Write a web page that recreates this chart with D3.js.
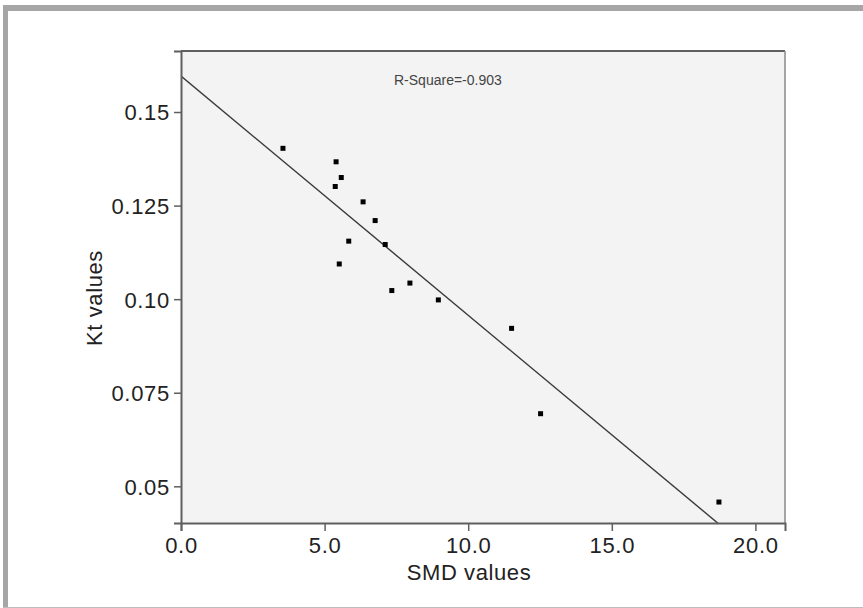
<!DOCTYPE html>
<html>
<head>
<meta charset="utf-8">
<script src="https://cdn.jsdelivr.net/npm/d3@7"></script>
<style>
  body { margin: 0; background: #fff; }
  svg { display: block; font-family: "Liberation Sans", Arial, sans-serif; }
</style>
</head>
<body>
<svg id="chart" width="863" height="608"></svg>
<script>
// SMD vs Kt
const smd = [3.55, 5.40, 5.58, 5.37, 6.34, 6.76, 5.84, 7.11, 5.51, 7.97, 7.34, 8.96, 11.51, 12.52, 18.73];
const kt = [0.1403, 0.1367, 0.1325, 0.1301, 0.1260, 0.1210, 0.1155, 0.1146, 0.1094, 0.1043, 0.1023, 0.0998, 0.0922, 0.0694, 0.0458];
const xTicks = [0, 5, 10, 15, 20];
const yTicks = [0.05, 0.075, 0.10, 0.125, 0.15];
const yTickLabels = ["0.05", "0.075", "0.10", "0.125", "0.15"];
const fitIntercept = 0.1596;
const fitSlope = -0.00639;
const rSquareLabel = "R-Square=-0.903";

const svg = d3.select("#chart");

// outer frame
svg.append("rect").attr("x", 3).attr("y", 5).attr("width", 860).attr("height", 6).attr("fill", "#a6a6a6");
svg.append("rect").attr("x", 3).attr("y", 5).attr("width", 5).attr("height", 603).attr("fill", "#a6a6a6");
svg.append("line").attr("x1", 3).attr("x2", 863).attr("y1", 607.5).attr("y2", 607.5)
  .attr("stroke", "#bdbdbd").attr("stroke-width", 1);

const margin = { left: 181, top: 51, right: 785, bottom: 523 };
const width = margin.right - margin.left;
const height = margin.bottom - margin.top;

const xScale = d3.scaleLinear().domain([0, 21.03]).range([0, width]);
const yScale = d3.scaleLinear().domain([0.0402, 0.1663]).range([height, 0]);

const g = svg.append("g").attr("transform", `translate(${margin.left}, ${margin.top})`);

g.append("rect")
  .attr("width", width)
  .attr("height", height)
  .attr("fill", "#f3f3f3");

g.append("defs").append("clipPath").attr("id", "plotclip")
  .append("rect").attr("width", width).attr("height", height);

// fit line
g.append("line")
  .attr("clip-path", "url(#plotclip)")
  .attr("x1", xScale(0))
  .attr("y1", yScale(fitIntercept))
  .attr("x2", xScale(21.03))
  .attr("y2", yScale(fitIntercept + fitSlope * 21.03))
  .attr("stroke", "#3a3a3a")
  .attr("stroke-width", 1.4);

// points
g.selectAll(".pt")
  .data(smd.map((d, i) => ({ x: d, y: kt[i] })))
  .enter()
  .append("rect")
  .attr("class", "pt")
  .attr("x", (d) => xScale(d.x) - 2.5)
  .attr("y", (d) => yScale(d.y) - 2.5)
  .attr("width", 5)
  .attr("height", 5)
  .attr("fill", "#000");

// plot border (top / right)
g.append("line").attr("x1", 0).attr("x2", width).attr("y1", 0).attr("y2", 0)
  .attr("stroke", "#5f5f5f").attr("stroke-width", 2);
g.append("line").attr("x1", width).attr("x2", width).attr("y1", 0).attr("y2", height)
  .attr("stroke", "#8a8a8a").attr("stroke-width", 1.5);

// axes
const xAxis = g.append("g")
  .attr("transform", `translate(0, ${height})`)
  .call(d3.axisBottom(xScale).tickValues(xTicks).tickFormat(d3.format(".1f")).tickSizeOuter(0).tickSize(8).tickPadding(6));

const yAxis = g.append("g")
  .call(d3.axisLeft(yScale).tickValues(yTicks).tickFormat((d, i) => yTickLabels[i]).tickSizeOuter(0).tickSize(7).tickPadding(4));

[xAxis, yAxis].forEach((ax) => {
  ax.select(".domain").attr("stroke", "#5f5f5f").attr("stroke-width", 2);
  ax.selectAll(".tick line").attr("stroke", "#5f5f5f").attr("stroke-width", 1.5);
  ax.selectAll(".tick text")
    .attr("fill", "#222")
    .style("font-size", "22px")
    .style("letter-spacing", "0.7px")
    .style("font-family", "'Liberation Sans', Arial, sans-serif");
});
yAxis.selectAll(".tick text").attr("dy", "0.36em");

// axis labels
svg.append("text")
  .attr("x", 469)
  .attr("y", 580)
  .attr("text-anchor", "middle")
  .attr("fill", "#222")
  .style("font-size", "22px")
  .style("letter-spacing", "0.6px")
  .text("SMD values");

svg.append("text")
  .attr("transform", "translate(102, 298) rotate(-90)")
  .attr("text-anchor", "middle")
  .attr("fill", "#222")
  .style("font-size", "22px")
  .style("letter-spacing", "0.6px")
  .text("Kt values");

// R-square annotation
svg.append("text")
  .attr("x", 394)
  .attr("y", 85)
  .attr("fill", "#444")
  .style("font-size", "14px")
  .text(rSquareLabel);
</script>
</body>
</html>
